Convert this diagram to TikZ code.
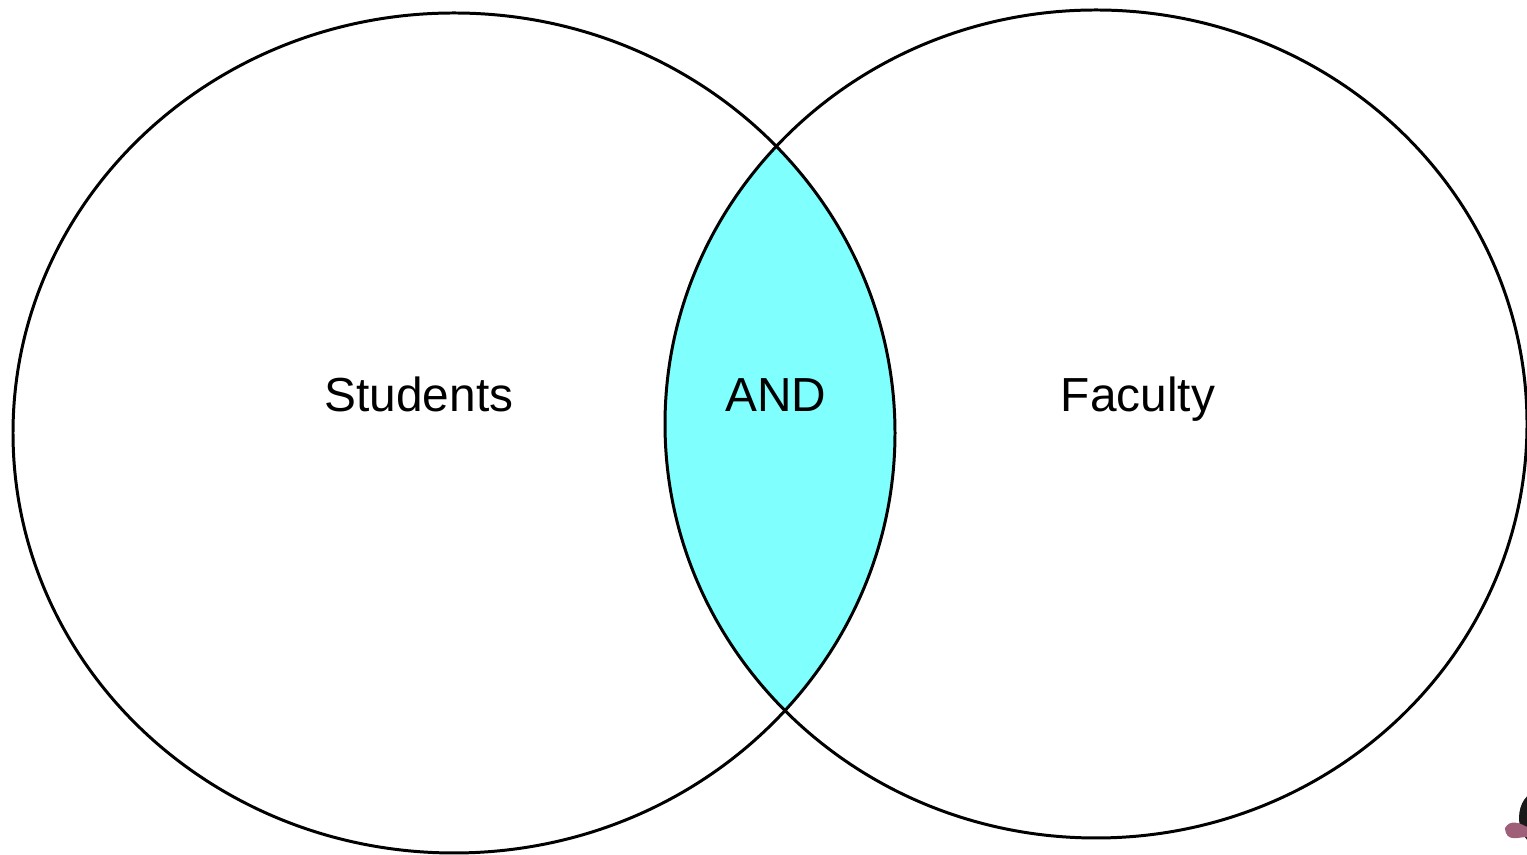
\documentclass[tikz,border=0pt]{standalone}
\usepackage{fontspec}
\setmainfont{Liberation Sans}
\usepackage{tikz}
\usetikzlibrary{shapes.geometric}

\definecolor{lenscyan}{RGB}{128,255,255}
\definecolor{scrappink}{RGB}{160,95,120}
\tikzset{
    setring/.style={ellipse, draw=black, line width=0.85pt, inner sep=0pt},
    setlabel/.style={font=\fontsize{13.6pt}{16pt}\selectfont, inner sep=0pt, anchor=base},
}

\begin{document}
\begin{tikzpicture}
    \useasboundingbox (0,0) rectangle (15.27,8.55);
    \clip (0,0) rectangle (15.27,8.55);

    % shaded overlap
    \begin{scope}
        \clip (4.54,4.22) ellipse [x radius=4.41, y radius=4.20];
        \fill[lenscyan] (10.96,4.31) ellipse [x radius=4.31, y radius=4.14];
    \end{scope}

    \node[setring, minimum width=8.82cm, minimum height=8.40cm] (students) at (4.54,4.22) {};
    \node[setring, minimum width=8.62cm, minimum height=8.28cm] (faculty) at (10.96,4.31) {};

    \node[setlabel] (studentstext) at (4.19,4.43) {Students};
    \node[setlabel] (andtext) at (7.76,4.43) {AND};
    \node[setlabel] (facultytext) at (11.38,4.43) {Faculty};

    % scrap of a picture in the corner
    \fill[black!90] (15.37,0.37) ellipse [x radius=0.18, y radius=0.26];
    \fill[scrappink] (15.05,0.27) .. controls (15.10,0.36) and (15.20,0.32) .. (15.27,0.28) -- (15.27,0.18) .. controls (15.18,0.18) and (15.06,0.12) .. (15.05,0.27);
\end{tikzpicture}
\end{document}
